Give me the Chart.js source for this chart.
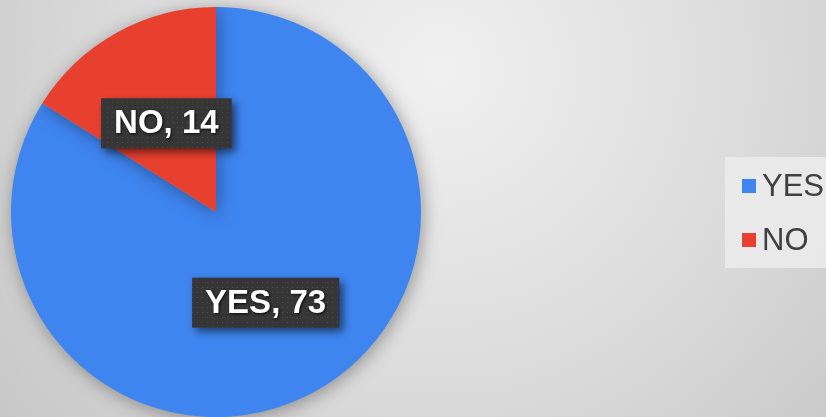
<!DOCTYPE html>
<html>
<head>
<meta charset="utf-8">
<script src="https://cdn.jsdelivr.net/npm/chart.js@4"></script>
<style>
  html, body { margin: 0; padding: 0; }
  body { width: 826px; height: 417px; overflow: hidden; }
  #wrap { position: relative; width: 826px; height: 417px; }
</style>
</head>
<body>
<div id="wrap"><canvas id="pie" width="826" height="417"></canvas></div>
<script>
// answers and counts
const categories = ["YES", "NO"];
const counts = [73, 14];
const sliceColors = ["#3f85f0", "#e8402f"];

// gray gradient background behind everything
const backgroundPlugin = {
  id: "bg",
  beforeDraw(chart) {
    const ctx = chart.ctx;
    const w = chart.width, h = chart.height;
    ctx.save();
    const g = ctx.createRadialGradient(440, 70, 10, 440, 70, 600);
    g.addColorStop(0, "#f0f0f0");
    g.addColorStop(0.5, "#dcdcdc");
    g.addColorStop(1, "#c4c4c4");
    ctx.fillStyle = g;
    ctx.fillRect(0, 0, w, h);
    ctx.restore();
  }
};

// soft shadow under the pie
const shadowPlugin = {
  id: "pieShadow",
  beforeDatasetsDraw(chart) {
    const ctx = chart.ctx;
    ctx.save();
    ctx.shadowColor = "rgba(0,0,0,0.35)";
    ctx.shadowBlur = 18;
    ctx.shadowOffsetX = 2;
    ctx.shadowOffsetY = 3;
  },
  afterDatasetsDraw(chart) {
    chart.ctx.restore();
  }
};

// dotted pattern for the label boxes
function dotPattern(ctx) {
  const c = document.createElement("canvas");
  c.width = 5; c.height = 5;
  const p = c.getContext("2d");
  p.fillStyle = "#363636";
  p.fillRect(0, 0, 5, 5);
  p.fillStyle = "#4a4a4a";
  p.fillRect(2, 2, 1, 1);
  return ctx.createPattern(c, "repeat");
}

// "NAME, value" boxes at the middle of each slice
const labelPlugin = {
  id: "sliceLabels",
  afterDraw(chart) {
    const ctx = chart.ctx;
    const meta = chart.getDatasetMeta(0);
    const pattern = dotPattern(ctx);
    ctx.save();
    ctx.font = "bold 33px 'Liberation Sans', Arial, sans-serif";
    ctx.textAlign = "center";
    ctx.textBaseline = "middle";
    meta.data.forEach((arc, i) => {
      const pos = arc.tooltipPosition();
      const text = categories[i] + ", " + counts[i];
      const tw = ctx.measureText(text).width;
      const bw = tw + 26, bh = 50;
      const x = pos.x - bw / 2, y = pos.y - bh / 2 + 1;
      ctx.save();
      ctx.shadowColor = "rgba(0,0,0,0.55)";
      ctx.shadowBlur = 8;
      ctx.shadowOffsetX = 4;
      ctx.shadowOffsetY = 4;
      ctx.fillStyle = pattern;
      ctx.fillRect(x, y, bw, bh);
      ctx.restore();
      ctx.save();
      ctx.shadowColor = "rgba(0,0,0,0.8)";
      ctx.shadowBlur = 3;
      ctx.shadowOffsetX = 1;
      ctx.shadowOffsetY = 1;
      ctx.fillStyle = "#ffffff";
      ctx.fillText(text, pos.x, pos.y + 2);
      ctx.restore();
    });
    ctx.restore();
  }
};

// legend on the right with its light box
const legendPlugin = {
  id: "sideLegend",
  afterDraw(chart) {
    const ctx = chart.ctx;
    ctx.save();
    ctx.fillStyle = "rgba(236,236,236,0.85)";
    ctx.fillRect(725, 157, 110, 111);
    ctx.font = "31px 'Liberation Sans', Arial, sans-serif";
    ctx.textBaseline = "middle";
    ctx.textAlign = "left";
    categories.forEach((name, i) => {
      const cy = 186 + i * 54;
      ctx.fillStyle = sliceColors[i];
      ctx.fillRect(742, cy - 7, 14, 14);
      ctx.fillStyle = "#404040";
      ctx.fillText(name, 762, cy + 1);
    });
    ctx.restore();
  }
};

new Chart(document.getElementById("pie"), {
  type: "pie",
  data: {
    labels: categories,
    datasets: [{
      data: counts,
      backgroundColor: sliceColors,
      borderWidth: 0
    }]
  },
  options: {
    responsive: false,
    animation: false,
    layout: { padding: { left: 11, right: 405, top: 7, bottom: 0 } },
    plugins: {
      legend: { display: false },
      tooltip: { enabled: false }
    }
  },
  plugins: [backgroundPlugin, shadowPlugin, labelPlugin, legendPlugin]
});
</script>
</body>
</html>
